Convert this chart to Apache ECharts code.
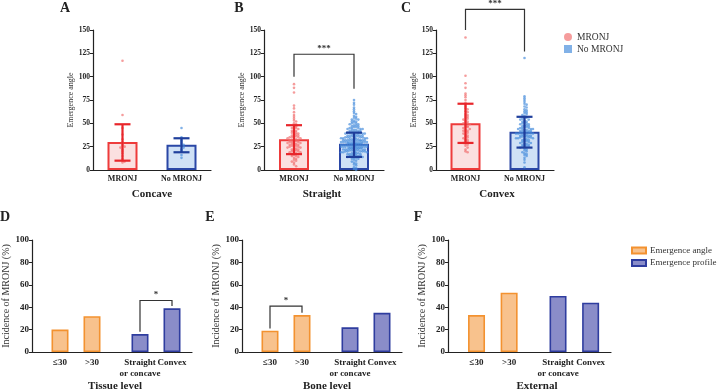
<!DOCTYPE html>
<html><head><meta charset="utf-8">
<script src="https://cdn.jsdelivr.net/npm/echarts@6/dist/echarts.min.js"></script>
<style>html,body{margin:0;padding:0;background:#fff}#c{width:720px;height:392px}</style>
</head><body><div id="c"></div>
<script>
// ---------------- data ----------------
const topCats = ['MRONJ', 'No MRONJ'];
const concaveMean = [30, 27];
const concaveLow = [10, 19];
const concaveHigh = [49, 34];
const straightMean = [33, 28];
const straightLow = [17, 14];
const straightHigh = [48, 40];
const convexMean = [50, 41];
const convexLow = [29, 24];
const convexHigh = [71, 57];

const concaveMRONJ = [117, 59, 45, 38, 33, 30, 28, 26, 25, 24, 22, 20, 18, 15, 12, 10, 9, 8];
const concaveNo = [45, 35, 32, 30, 28, 27, 26, 24, 22, 20, 16, 13];
const straightMRONJ = [92, 88, 83, 69, 66, 62, 59, 57, 55, 53, 52, 50, 49, 48, 47, 46, 45, 45, 44, 43, 42, 42, 41, 40, 40, 39, 38, 38, 37, 37, 36, 36, 35, 35, 35, 34, 34, 33, 33, 32, 32, 32, 31, 31, 30, 30, 30, 29, 29, 28, 28, 28, 27, 27, 26, 26, 26, 25, 25, 24, 24, 23, 23, 22, 22, 21, 21, 20, 20, 19, 19, 18, 18, 17, 17, 16, 15, 15, 14, 13, 12, 11, 10, 9, 8, 6, 4];
const straightNo = [75, 72, 70, 67, 65, 63, 61, 60, 58, 57, 56, 55, 54, 54, 53, 52, 52, 51, 50, 50, 49, 49, 48, 48, 47, 47, 46, 46, 45, 45, 45, 44, 44, 44, 43, 43, 43, 42, 42, 42, 41, 41, 41, 40, 40, 40, 40, 39, 39, 39, 38, 38, 38, 38, 37, 37, 37, 37, 36, 36, 36, 36, 35, 35, 35, 35, 35, 34, 34, 34, 34, 34, 33, 33, 33, 33, 33, 32, 32, 32, 32, 32, 32, 31, 31, 31, 31, 31, 31, 30, 30, 30, 30, 30, 30, 30, 29, 29, 29, 29, 29, 29, 29, 28, 28, 28, 28, 28, 28, 28, 27, 27, 27, 27, 27, 27, 27, 26, 26, 26, 26, 26, 26, 26, 25, 25, 25, 25, 25, 25, 25, 24, 24, 24, 24, 24, 24, 23, 23, 23, 23, 23, 23, 22, 22, 22, 22, 22, 21, 21, 21, 21, 21, 20, 20, 20, 20, 20, 19, 19, 19, 19, 18, 18, 18, 18, 17, 17, 17, 16, 16, 16, 15, 15, 15, 14, 14, 13, 13, 12, 12, 11, 10, 9, 8, 7, 6, 5, 3, 2, 1, 0];
const convexMRONJ = [142, 101, 93, 88, 82, 80, 78, 75, 72, 70, 68, 66, 65, 63, 62, 60, 59, 58, 57, 56, 55, 54, 53, 52, 51, 50, 50, 49, 48, 47, 46, 46, 45, 44, 43, 42, 42, 41, 40, 39, 38, 37, 36, 35, 34, 33, 32, 31, 30, 29, 28, 27, 26, 24, 22, 20, 19];
const convexNo = [120, 79, 77, 75, 73, 71, 70, 68, 67, 65, 64, 63, 62, 61, 60, 59, 58, 57, 56, 56, 55, 54, 54, 53, 52, 52, 51, 50, 50, 49, 49, 48, 48, 47, 47, 46, 46, 45, 45, 45, 44, 44, 44, 43, 43, 43, 42, 42, 42, 41, 41, 41, 40, 40, 40, 39, 39, 39, 38, 38, 38, 37, 37, 37, 36, 36, 36, 35, 35, 35, 34, 34, 34, 33, 33, 32, 32, 31, 31, 30, 30, 29, 29, 28, 28, 27, 27, 26, 26, 25, 25, 24, 23, 22, 21, 20, 19, 18, 17, 16, 15, 13, 11, 8, 3];

// significance brackets: [top, left end, right end]
const straightBracket = [124, 100, 87];
const convexBracket = [172, 150, 127];

const bottomCats = ['≤30', '>30', 'Straight\nor concave', 'Convex'];
const tissueLevel = [20, 32, 16, 39];
const boneLevel = [19, 33, 22, 35];
const externalLevel = [33, 53, 50, 44];
const tissueBracket = [46, 18, 41];
const boneBracket = [41, 21, 35];

// ---------------- layout ----------------
const FONT = 'Liberation Serif';
const SLOTS = 20;
const slotPos = [3, 7, 13, 17];

const topPanels = [
  { mean: concaveMean, low: concaveLow, high: concaveHigh, pts: [concaveMRONJ, concaveNo], br: null, left: 93, width: 118 },
  { mean: straightMean, low: straightLow, high: straightHigh, pts: [straightMRONJ, straightNo], br: straightBracket, brText: '***', left: 264, width: 120 },
  { mean: convexMean, low: convexLow, high: convexHigh, pts: [convexMRONJ, convexNo], br: convexBracket, brText: '***', left: 436, width: 118 }
];
const bottomPanels = [
  { vals: tissueLevel, br: tissueBracket, brSlots: [13, 17], left: 32, width: 160 },
  { vals: boneLevel, br: boneBracket, brSlots: [3, 7], left: 242, width: 160 },
  { vals: externalLevel, br: null, left: 448, width: 163 }
];

const barFill = ['#fbe0e0', '#cfe1f6'];
const barBorder = ['#ee3b3b', '#2a47a6'];
const errColor = ['#e8262b', '#1f3f9c'];
const dotColor = ['rgba(240,110,110,0.85)', 'rgba(70,140,220,0.85)'];

function swarm(vals, center) {
  const used = {};
  const step = 0.036, perRow = 13;
  return vals.map(v => {
    const b = Math.round(v / 2.5);
    const k = used[b] || 0; used[b] = k + 1;
    const r = k % perRow, layer = Math.floor(k / perRow);
    const m = Math.ceil(r / 2) * (r % 2 ? 1 : -1);
    const off = (m + (layer % 2 ? 0.5 : 0)) * step;
    return [center + off, v];
  });
}

function bracketSeries(xi, yi, data, text) {
  return {
    type: 'custom', xAxisIndex: xi, yAxisIndex: yi, silent: true, clip: false, z: 5,
    data: [data],
    renderItem: function (params, api) {
      const x1 = api.value(0), x2 = api.value(1);
      const pT1 = api.coord([x1, api.value(2)]);
      const pT2 = api.coord([x2, api.value(2)]);
      const pL = api.coord([x1, api.value(3)]);
      const pR = api.coord([x2, api.value(4)]);
      return {
        type: 'group', children: [
          { type: 'polyline', shape: { points: [pL, pT1, pT2, pR] }, style: { stroke: '#333', lineWidth: 1.2, fill: null } },
          { type: 'text', x: (pT1[0] + pT2[0]) / 2, y: pT1[1] - 1, style: { text: text, fill: '#333', font: 'bold 9px ' + FONT, align: 'center', verticalAlign: 'bottom' } }
        ]
      };
    }
  };
}

const grids = [], xAxes = [], yAxes = [], series = [];
const axisLineStyle = { color: '#222', width: 1.2 };

topPanels.forEach((p, i) => {
  grids.push({ left: p.left, width: p.width, top: 30, height: 140 });
  xAxes.push({
    gridIndex: i, type: 'category', data: topCats,
    axisLine: { onZero: false, lineStyle: axisLineStyle },
    axisTick: { alignWithLabel: true, length: 3, lineStyle: { color: '#222' } },
    axisLabel: { fontSize: 8, fontWeight: 'bold', color: '#222', fontFamily: FONT, margin: 5 }
  });
  xAxes.push({ gridIndex: i, type: 'value', min: -0.5, max: 1.5, show: false, axisLine: { onZero: false } });
  yAxes.push({
    gridIndex: i, type: 'value', min: 0, max: 150, interval: 25,
    axisLine: { show: true, onZero: false, lineStyle: axisLineStyle },
    axisTick: { show: true, length: 3, lineStyle: { color: '#222' } },
    splitLine: { show: false },
    axisLabel: { fontSize: 7.5, fontWeight: 'bold', color: '#222', fontFamily: FONT, margin: 3 },
    name: 'Emergence angle', nameLocation: 'middle', nameGap: 17,
    nameTextStyle: { fontSize: 8, fontFamily: FONT, color: '#333' }
  });
  series.push({
    type: 'bar', xAxisIndex: 2 * i, yAxisIndex: i, barWidth: 30, silent: true, z: 1,
    data: p.mean.map((v, k) => ({ value: v, itemStyle: { color: barFill[k], borderColor: barBorder[k], borderWidth: 2 } }))
  });
  p.pts.forEach((arr, g) => {
    series.push({
      type: 'scatter', name: topCats[g], xAxisIndex: 2 * i + 1, yAxisIndex: i, symbolSize: 2.6, z: 2, silent: true,
      itemStyle: { color: dotColor[g] }, data: swarm(arr, g)
    });
  });
  series.push({
    type: 'custom', xAxisIndex: 2 * i, yAxisIndex: i, silent: true, z: 4,
    data: p.mean.map((m, k) => [k, p.low[k], p.high[k]]),
    renderItem: function (params, api) {
      const k = api.value(0);
      const lo = api.coord([k, api.value(1)]);
      const hi = api.coord([k, api.value(2)]);
      const c = errColor[k], hw = 8;
      const st = { stroke: c, lineWidth: 2.2 };
      return {
        type: 'group', children: [
          { type: 'line', shape: { x1: lo[0], y1: lo[1], x2: hi[0], y2: hi[1] }, style: st },
          { type: 'line', shape: { x1: lo[0] - hw, y1: lo[1], x2: lo[0] + hw, y2: lo[1] }, style: st },
          { type: 'line', shape: { x1: hi[0] - hw, y1: hi[1], x2: hi[0] + hw, y2: hi[1] }, style: st }
        ]
      };
    }
  });
  if (p.br) series.push(bracketSeries(2 * i, i, [0, 1].concat(p.br), p.brText));
});

bottomPanels.forEach((p, q) => {
  const gi = 3 + q, xi = 6 + q, yi = 3 + q;
  grids.push({ left: p.left, width: p.width, top: 240, height: 112 });
  const labels = new Array(SLOTS).fill('');
  slotPos.forEach((s, k) => { labels[s] = bottomCats[k]; });
  xAxes.push({
    gridIndex: gi, type: 'category', data: labels.map((l, k) => 's' + k),
    axisLine: { onZero: false, lineStyle: axisLineStyle }, axisTick: { show: false },
    axisLabel: { interval: 0, fontSize: 9, fontWeight: 'bold', color: '#222', fontFamily: FONT, margin: 5, lineHeight: 11,
      formatter: (v, idx) => labels[idx] }
  });
  yAxes.push({
    gridIndex: gi, type: 'value', min: 0, max: 100, interval: 20,
    axisLine: { show: true, onZero: false, lineStyle: axisLineStyle },
    axisTick: { show: true, length: 3, lineStyle: { color: '#222' } },
    splitLine: { show: false },
    axisLabel: { fontSize: 9, fontWeight: 'bold', color: '#222', fontFamily: FONT, margin: 3 },
    name: 'Incidence of MRONJ (%)', nameLocation: 'middle', nameGap: 21,
    nameTextStyle: { fontSize: 10, fontFamily: FONT, color: '#333' }
  });
  const angle = new Array(SLOTS).fill(null), profile = new Array(SLOTS).fill(null);
  angle[slotPos[0]] = p.vals[0]; angle[slotPos[1]] = p.vals[1];
  profile[slotPos[2]] = p.vals[2]; profile[slotPos[3]] = p.vals[3];
  series.push({
    type: 'bar', name: 'Emergence angle', xAxisIndex: xi, yAxisIndex: yi, barWidth: 17, barGap: '-100%', silent: true,
    itemStyle: { color: '#f8c28d', borderColor: '#f39230', borderWidth: 1.6 }, data: angle
  });
  series.push({
    type: 'bar', name: 'Emergence profile', xAxisIndex: xi, yAxisIndex: yi, barWidth: 17, barGap: '-100%', silent: true,
    itemStyle: { color: '#8a8dc9', borderColor: '#2f3d9f', borderWidth: 1.6 }, data: profile
  });
  if (p.br) series.push(bracketSeries(xi, yi, p.brSlots.concat(p.br), '*'));
});

const texts = [
  ['A', 65, 8, 14], ['B', 239, 8, 14], ['C', 406, 8, 14],
  ['D', 5, 217, 14], ['E', 210, 217, 14], ['F', 418, 217, 14],
  ['Concave', 152, 194, 11], ['Straight', 322, 194, 11], ['Convex', 497, 194, 11],
  ['Tissue level', 115, 386, 11], ['Bone level', 327, 386, 11], ['External', 537, 386, 11]
];
const graphic = texts.map(t => ({
  type: 'text', x: t[1], y: t[2], silent: true,
  style: { text: t[0], font: 'bold ' + t[3] + 'px ' + FONT, fill: '#222', align: 'center', verticalAlign: 'middle' }
}));

const option = {
  animation: false,
  backgroundColor: '#ffffff',
  textStyle: { fontFamily: FONT },
  grid: grids, xAxis: xAxes, yAxis: yAxes, series: series, graphic: graphic,
  legend: [
    { data: [{ name: 'MRONJ', icon: 'circle' }, { name: 'No MRONJ', icon: 'rect' }], orient: 'vertical',
      left: 559, top: 27, itemWidth: 8, itemHeight: 8, itemGap: 2, selectedMode: false,
      textStyle: { fontFamily: FONT, fontSize: 9.5, color: '#333' } },
    { data: ['Emergence angle', 'Emergence profile'], icon: 'rect', orient: 'vertical',
      left: 626, top: 241, itemWidth: 14, itemHeight: 6, itemGap: 3.5, selectedMode: false,
      textStyle: { fontFamily: FONT, fontSize: 9, color: '#333', padding: [0, 0, 0, -1] } }
  ]
};
const chart = echarts.init(document.getElementById('c'), null, { renderer: 'canvas' });
chart.setOption(option);
</script></body></html>
